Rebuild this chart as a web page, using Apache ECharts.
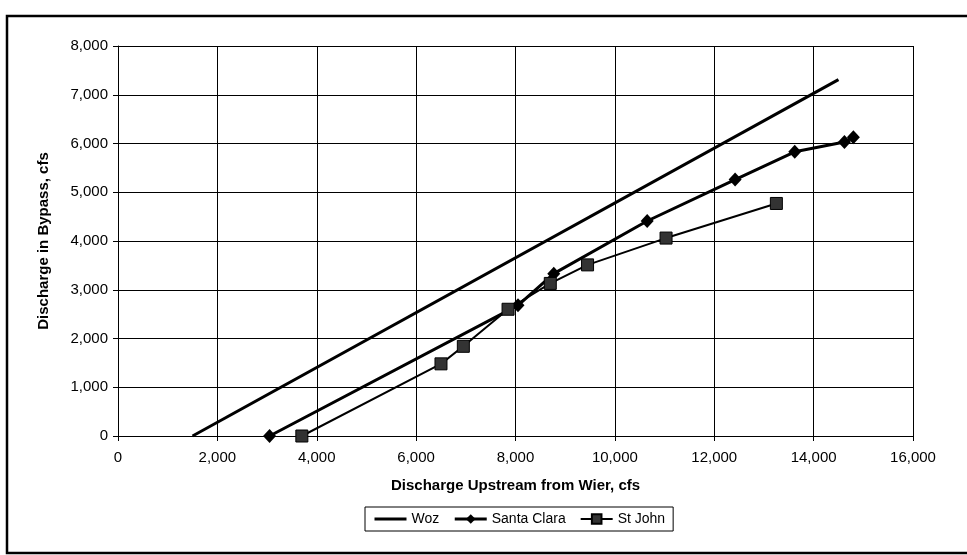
<!DOCTYPE html>
<html><head><meta charset="utf-8">
<script src="https://cdn.jsdelivr.net/npm/echarts@6/dist/echarts.min.js"></script>
<style>html,body{margin:0;padding:0;background:#fff}#c{width:967px;height:555px}</style>
</head><body><div id="c"></div>
<script>
const seriesNames = ['Woz', 'Santa Clara', 'St John'];
const wozX = [1500, 14500];
const wozY = [0, 7310];
const santaClaraX = [3050, 8050, 8770, 10650, 12420, 13620, 14620, 14800];
const santaClaraY = [0, 2680, 3330, 4410, 5260, 5830, 6030, 6130];
const stJohnX = [3700, 6500, 6950, 7850, 8700, 9450, 11030, 13250];
const stJohnY = [0, 1480, 1840, 2600, 3130, 3510, 4060, 4770];
const xAxisTitle = 'Discharge Upstream from Wier, cfs';
const yAxisTitle = 'Discharge in Bypass, cfs';

const pair = (xs, ys) => xs.map((x, i) => [x, ys[i]]);
const font = '"Liberation Sans", Arial, sans-serif';
const fmt = v => Number(v).toLocaleString('en-US');

const chart = echarts.init(document.getElementById('c'), null, {renderer: 'canvas'});
chart.setOption({
  animation: false,
  backgroundColor: '#fff',
  textStyle: {fontFamily: font, color: '#000'},
  graphic: [{
    type: 'rect', silent: true, z: -1,
    shape: {x: 7, y: 16, width: 975, height: 537},
    style: {fill: 'none', stroke: '#000', lineWidth: 2.5}
  }],
  grid: {left: 118, top: 46, width: 795, height: 390, containLabel: false},
  xAxis: {
    type: 'value', min: 0, max: 16000, interval: 2000,
    name: xAxisTitle, nameLocation: 'middle', nameGap: 42,
    nameTextStyle: {fontFamily: font, fontWeight: 'bold', fontSize: 15, color: '#000'},
    axisLine: {show: true, lineStyle: {color: '#000', width: 1}},
    axisTick: {show: true, length: 5, lineStyle: {color: '#000'}},
    axisLabel: {formatter: fmt, fontFamily: font, fontSize: 15, color: '#000', margin: 14},
    splitLine: {show: true, lineStyle: {color: '#000', width: 1}}
  },
  yAxis: {
    type: 'value', min: 0, max: 8000, interval: 1000,
    name: yAxisTitle, nameLocation: 'middle', nameGap: 67,
    nameTextStyle: {fontFamily: font, fontWeight: 'bold', fontSize: 15, color: '#000'},
    axisLine: {show: true, lineStyle: {color: '#000', width: 1}},
    axisTick: {show: true, length: 5, lineStyle: {color: '#000'}},
    axisLabel: {formatter: fmt, fontFamily: font, fontSize: 15, color: '#000', margin: 10},
    splitLine: {show: true, lineStyle: {color: '#000', width: 1}}
  },
  legend: {
    data: [
      {name: seriesNames[0], itemStyle: {opacity: 0}, lineStyle: {width: 3, color: '#000'}},
      {name: seriesNames[1], lineStyle: {width: 3, color: '#000'}},
      {name: seriesNames[2], lineStyle: {width: 2, color: '#000'}}
    ],
    left: 365, top: 507,
    orient: 'horizontal',
    itemWidth: 32, itemHeight: 12, itemGap: 14,
    padding: [5, 8],
    borderColor: '#000', borderWidth: 1,
    textStyle: {fontFamily: font, fontSize: 14, color: '#000'}
  },
  series: [
    {
      name: seriesNames[0], type: 'line', data: pair(wozX, wozY),
      symbol: 'none', lineStyle: {color: '#000', width: 3}, itemStyle: {color: '#000'}, z: 3
    },
    {
      name: seriesNames[1], type: 'line', data: pair(santaClaraX, santaClaraY),
      symbol: 'diamond', symbolSize: [13, 14],
      lineStyle: {color: '#000', width: 3}, itemStyle: {color: '#000'}, z: 4
    },
    {
      name: seriesNames[2], type: 'line', data: pair(stJohnX, stJohnY),
      symbol: 'rect', symbolSize: 12,
      lineStyle: {color: '#000', width: 2}, itemStyle: {color: '#333', borderColor: '#000', borderWidth: 1}, z: 5
    }
  ]
});
</script></body></html>
